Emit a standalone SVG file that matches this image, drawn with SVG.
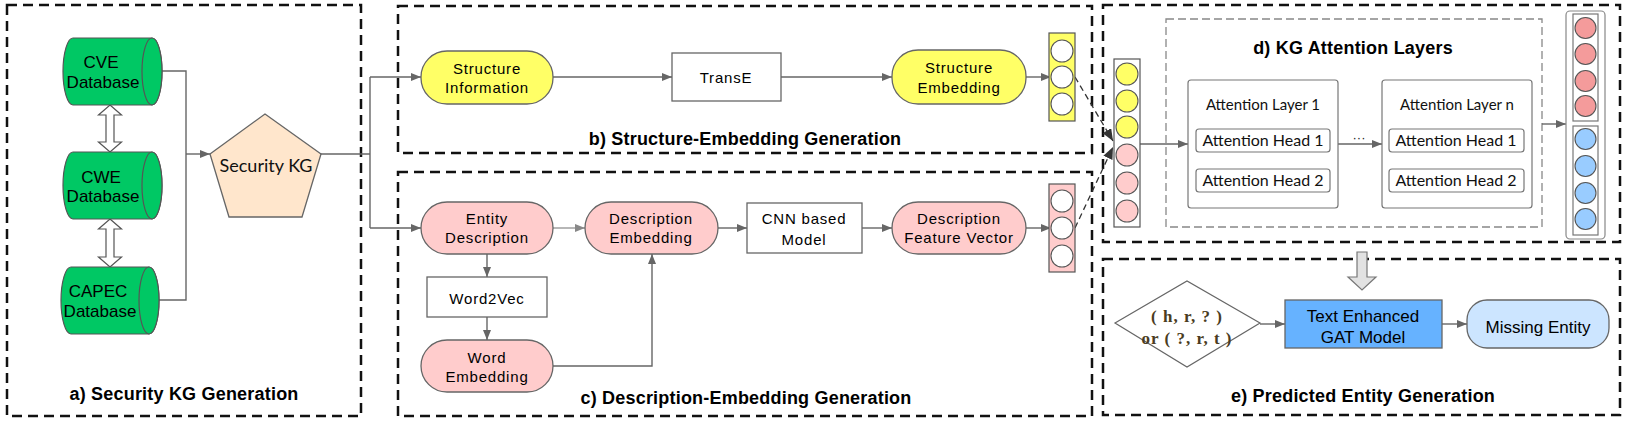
<svg xmlns="http://www.w3.org/2000/svg" width="1634" height="421" viewBox="0 0 1634 421">
<defs>
<style>
.frame{fill:none;stroke:#111;stroke-width:2.5;stroke-dasharray:10 6}
.inner{fill:none;stroke:#888;stroke-width:1.3;stroke-dasharray:8 4}
.title{font-family:"Liberation Sans",Arial,sans-serif;font-weight:bold;font-size:18px;fill:#000;letter-spacing:0.2px}
.lbl{font-family:"Liberation Sans",Arial,sans-serif;font-size:15px;fill:#000;letter-spacing:0.8px;text-anchor:middle}
.big{font-family:"Liberation Sans",Arial,sans-serif;font-size:17px;fill:#000;text-anchor:middle}
.cal{font-family:Lato,"Open Sans",sans-serif;fill:#111;text-anchor:middle}
.node{stroke:#666;stroke-width:1.3}
.box{fill:#fff;stroke:#666;stroke-width:1.3}
.conn{fill:none;stroke:#666;stroke-width:1.4}
.light{fill:none;stroke:#999;stroke-width:1.4}
.dash{fill:none;stroke:#333;stroke-width:1.3;stroke-dasharray:6 4}
.cyl{fill:#00C864;stroke:#555;stroke-width:1.2}
.vec{stroke:#555;stroke-width:1.2}
.circ{stroke:#555;stroke-width:1.1}
.q{font-family:"Liberation Serif","Times New Roman",serif;font-weight:bold;font-size:17px;fill:#4a3c22;text-anchor:middle;letter-spacing:1px}
</style>
<marker id="arr" viewBox="0 0 10 8" refX="10" refY="4" markerWidth="10" markerHeight="8" markerUnits="userSpaceOnUse" orient="auto"><path d="M0,0 L10,4 L0,8 Z" fill="#666"/></marker>
<marker id="arrL" viewBox="0 0 10 8" refX="10" refY="4" markerWidth="10" markerHeight="8" markerUnits="userSpaceOnUse" orient="auto"><path d="M0,0 L10,4 L0,8 Z" fill="#888"/></marker>
<marker id="arrD" viewBox="0 0 12 10" refX="12" refY="5" markerWidth="12" markerHeight="10" markerUnits="userSpaceOnUse" orient="auto"><path d="M0,0 L12,5 L0,10 Z" fill="#333"/></marker>
</defs>
<rect width="1634" height="421" fill="#fff"/>

<!-- frames -->
<g id="frames">
<rect class="frame" x="7" y="5" width="354" height="411"/>
<rect class="frame" x="398" y="6" width="694" height="147"/>
<rect class="frame" x="398" y="172" width="694" height="244"/>
<rect class="frame" x="1103" y="5" width="517" height="237"/>
<rect class="frame" x="1103" y="259" width="517" height="156"/>
<rect class="inner" x="1166" y="19" width="376" height="208"/>
<text class="title" x="184" y="400" text-anchor="middle">a) Security KG Generation</text>
<text class="title" x="745" y="145" text-anchor="middle">b) Structure-Embedding Generation</text>
<text class="title" x="746" y="404" text-anchor="middle">c) Description-Embedding Generation</text>
<text class="title" x="1353" y="54" text-anchor="middle">d) KG Attention Layers</text>
<text class="title" x="1363" y="402" text-anchor="middle">e) Predicted Entity Generation</text>
</g>

<!-- connectors -->
<g id="connectors">
<path class="conn" d="M162,71 H186 V300 H159"/>
<path class="conn" d="M186,154 H210" marker-end="url(#arr)"/>
<path class="conn" d="M321,154 H370"/>
<path class="conn" d="M370,77 V228"/>
<path class="conn" d="M370,77 H421" marker-end="url(#arr)"/>
<path class="conn" d="M370,228 H421" marker-end="url(#arr)"/>
<path class="conn" d="M553,77 H672" marker-end="url(#arr)"/>
<path class="conn" d="M781,77 H892" marker-end="url(#arr)"/>
<path class="conn" d="M1026,77 H1051" marker-end="url(#arr)"/>
<path class="light" d="M553,228 H585" marker-end="url(#arrL)"/>
<path class="conn" d="M718,228 H747" marker-end="url(#arr)"/>
<path class="conn" d="M862,228 H892" marker-end="url(#arr)"/>
<path class="conn" d="M1026,228 H1051" marker-end="url(#arr)"/>
<path class="conn" d="M487,254 V277" marker-end="url(#arr)"/>
<path class="conn" d="M487,317 V340" marker-end="url(#arr)"/>
<path class="conn" d="M553,366 H652 V254" marker-end="url(#arr)"/>
<path class="dash" d="M1075,77 L1113,141" marker-end="url(#arrD)"/>
<path class="dash" d="M1075,228 L1113,147" marker-end="url(#arrD)"/>
<path class="conn" d="M1140,144 H1188" marker-end="url(#arr)"/>
<path class="conn" d="M1338,144 H1382" marker-end="url(#arr)"/>
<path class="conn" d="M1542,124 H1566" marker-end="url(#arr)"/>
<path class="conn" d="M1260,324 H1285" marker-end="url(#arr)"/>
<path class="conn" d="M1442,324 H1467" marker-end="url(#arr)"/>
<polygon points="110,105 121.5,115 114,115 114,142 121.5,142 110,152 98.5,142 106,142 106,115 98.5,115" fill="#fff" stroke="#555" stroke-width="1.2"/>
<polygon points="110,219 121.5,229 114,229 114,257 121.5,257 110,267 98.5,257 106,257 106,229 98.5,229" fill="#fff" stroke="#555" stroke-width="1.2"/>
<polygon points="1357,252 1367,252 1367,277 1376,277 1362,290 1348,277 1357,277" fill="#E2E2E2" stroke="#777" stroke-width="1.2"/>
<text x="1359" y="142" font-family="Liberation Sans,Arial,sans-serif" font-size="13" text-anchor="middle" fill="#222">···</text>
</g>

<!-- a) nodes -->
<g id="cve">
<path class="cyl" d="M73,38 H152 A10,33.5 0 0 1 152,105 H73 A10,33.5 0 0 1 73,38 Z"/>
<ellipse class="cyl" cx="152" cy="71.5" rx="10" ry="33.5"/>
<text class="big" x="101" y="68">CVE</text>
<text class="big" x="103" y="88">Database</text>
</g>
<g id="cwe">
<path class="cyl" d="M73,152 H152 A10,33.5 0 0 1 152,219 H73 A10,33.5 0 0 1 73,152 Z"/>
<ellipse class="cyl" cx="152" cy="185.5" rx="10" ry="33.5"/>
<text class="big" x="101" y="183">CWE</text>
<text class="big" x="103" y="202">Database</text>
</g>
<g id="capec">
<path class="cyl" d="M71,267 H149 A10,33.5 0 0 1 149,334 H71 A10,33.5 0 0 1 71,267 Z"/>
<ellipse class="cyl" cx="149" cy="300.5" rx="10" ry="33.5"/>
<text class="big" x="98" y="297">CAPEC</text>
<text class="big" x="100" y="317">Database</text>
</g>
<g id="securitykg">
<polygon points="265,114 321,154 302,217 229,217 210,154" fill="#FFE6CC" stroke="#666" stroke-width="1.3"/>
<text class="cal" x="266" y="172" font-size="18" fill="#333">Security KG</text>
</g>

<!-- b) nodes -->
<g id="structinfo">
<rect class="node" x="421" y="51" width="132" height="53" rx="26" fill="#FFFF66"/>
<text class="lbl" x="487" y="74">Structure</text>
<text class="lbl" x="487" y="93">Information</text>
</g>
<g id="transe">
<rect class="box" x="672" y="53" width="109" height="48"/>
<text class="lbl" x="726" y="83">TransE</text>
</g>
<g id="structemb">
<rect class="node" x="892" y="50" width="134" height="54" rx="26" fill="#FFFF66"/>
<text class="lbl" x="959" y="73">Structure</text>
<text class="lbl" x="959" y="93">Embedding</text>
</g>
<g id="structvec">
<rect class="vec" x="1049" y="33" width="26" height="88" fill="#FFFF66"/>
<circle class="circ" cx="1062" cy="51" r="11" fill="#fff"/>
<circle class="circ" cx="1062" cy="77" r="11" fill="#fff"/>
<circle class="circ" cx="1062" cy="104" r="11" fill="#fff"/>
</g>

<!-- c) nodes -->
<g id="entitydesc">
<rect class="node" x="421" y="202" width="132" height="52" rx="26" fill="#FFCCCC"/>
<text class="lbl" x="487" y="224">Entity</text>
<text class="lbl" x="487" y="243">Description</text>
</g>
<g id="descemb">
<rect class="node" x="585" y="202" width="133" height="52" rx="26" fill="#FFCCCC"/>
<text class="lbl" x="651" y="224">Description</text>
<text class="lbl" x="651" y="243">Embedding</text>
</g>
<g id="cnn">
<rect class="box" x="747" y="203" width="115" height="50"/>
<text class="lbl" x="804" y="224">CNN based</text>
<text class="lbl" x="804" y="245">Model</text>
</g>
<g id="descfeat">
<rect class="node" x="892" y="202" width="134" height="52" rx="26" fill="#FFCCCC"/>
<text class="lbl" x="959" y="224">Description</text>
<text class="lbl" x="959" y="243">Feature Vector</text>
</g>
<g id="word2vec">
<rect class="box" x="427" y="277" width="120" height="40"/>
<text class="lbl" x="487" y="304">Word2Vec</text>
</g>
<g id="wordemb">
<rect class="node" x="421" y="340" width="132" height="52" rx="26" fill="#FFCCCC"/>
<text class="lbl" x="487" y="363">Word</text>
<text class="lbl" x="487" y="382">Embedding</text>
</g>
<g id="descvec">
<rect class="vec" x="1049" y="184" width="26" height="88" fill="#FFCCCC"/>
<circle class="circ" cx="1062" cy="201" r="11" fill="#fff"/>
<circle class="circ" cx="1062" cy="228" r="11" fill="#fff"/>
<circle class="circ" cx="1062" cy="256" r="11" fill="#fff"/>
</g>

<!-- d) nodes -->
<g id="combinedvec">
<rect class="vec" x="1114" y="59" width="26" height="168" fill="#fff"/>
<circle class="circ" cx="1127" cy="74" r="11" fill="#FFFF66"/>
<circle class="circ" cx="1127" cy="101" r="11" fill="#FFFF66"/>
<circle class="circ" cx="1127" cy="127" r="11" fill="#FFFF66"/>
<circle class="circ" cx="1127" cy="155" r="11" fill="#FFCCCC"/>
<circle class="circ" cx="1127" cy="183" r="11" fill="#FFCCCC"/>
<circle class="circ" cx="1127" cy="211" r="11" fill="#FFCCCC"/>
</g>
<g id="layer1">
<rect x="1188" y="80" width="150" height="128" rx="3" fill="#fff" stroke="#777" stroke-width="1.2"/>
<text class="cal" x="1263" y="110" font-size="15">Attention Layer 1</text>
<rect x="1196" y="129" width="134" height="23" rx="3" fill="#fff" stroke="#777" stroke-width="1.2"/>
<text class="cal" x="1263" y="146" font-size="16">Attention Head 1</text>
<rect x="1196" y="169" width="134" height="23" rx="3" fill="#fff" stroke="#777" stroke-width="1.2"/>
<text class="cal" x="1263" y="186" font-size="16">Attention Head 2</text>
</g>
<g id="layern">
<rect x="1382" y="80" width="150" height="128" rx="3" fill="#fff" stroke="#777" stroke-width="1.2"/>
<text class="cal" x="1457" y="110" font-size="15">Attention Layer n</text>
<rect x="1389" y="129" width="135" height="23" rx="3" fill="#fff" stroke="#777" stroke-width="1.2"/>
<text class="cal" x="1456" y="146" font-size="16">Attention Head 1</text>
<rect x="1389" y="169" width="135" height="23" rx="3" fill="#fff" stroke="#777" stroke-width="1.2"/>
<text class="cal" x="1456" y="186" font-size="16">Attention Head 2</text>
</g>
<g id="outputvec">
<rect x="1566" y="11" width="39" height="228" rx="4" fill="#fff" stroke="#888" stroke-width="1.2"/>
<rect x="1573" y="14" width="25" height="107" fill="#fff" stroke="#777" stroke-width="1.2"/>
<rect x="1573" y="126" width="25" height="109" fill="#fff" stroke="#777" stroke-width="1.2"/>
<circle class="circ" cx="1585.5" cy="28" r="10.5" fill="#F49B9B"/>
<circle class="circ" cx="1585.5" cy="54" r="10.5" fill="#F49B9B"/>
<circle class="circ" cx="1585.5" cy="81" r="10.5" fill="#F49B9B"/>
<circle class="circ" cx="1585.5" cy="106" r="10.5" fill="#F49B9B"/>
<circle class="circ" cx="1585.5" cy="139" r="10.5" fill="#99CCFF"/>
<circle class="circ" cx="1585.5" cy="166" r="10.5" fill="#99CCFF"/>
<circle class="circ" cx="1585.5" cy="193" r="10.5" fill="#99CCFF"/>
<circle class="circ" cx="1585.5" cy="219" r="10.5" fill="#99CCFF"/>
</g>

<!-- e) nodes -->
<g id="query">
<polygon points="1115,323 1187,281 1260,323 1187,367" fill="#fff" stroke="#666" stroke-width="1.2"/>
<text class="q" x="1187" y="322" xml:space="preserve">( h, r, ? )</text>
<text class="q" x="1187" y="344" xml:space="preserve">or ( ?, r, t )</text>
</g>
<g id="gat">
<rect x="1285" y="300" width="157" height="48" fill="#66B2FF" stroke="#666" stroke-width="1.3"/>
<text class="big" x="1363" y="322">Text Enhanced</text>
<text class="big" x="1363" y="343">GAT Model</text>
</g>
<g id="missing">
<rect class="node" x="1467" y="300" width="142" height="48" rx="20" fill="#CCE5FF"/>
<text class="big" x="1538" y="333" font-size="18">Missing Entity</text>
</g>
</svg>
